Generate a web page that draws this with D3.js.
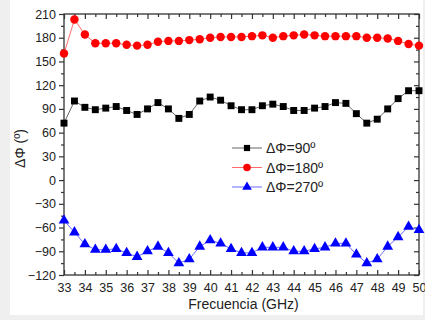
<!DOCTYPE html>
<html><head><meta charset="utf-8">
<script src="https://cdn.jsdelivr.net/npm/d3@7"></script>
<style>body{margin:0;background:#fff}svg{display:block}</style>
</head><body>
<script>
const freqs = [33,33.5,34,34.5,35,35.5,36,36.5,37,37.5,38,38.5,39,39.5,40,40.5,41,41.5,42,42.5,43,43.5,44,44.5,45,45.5,46,46.5,47,47.5,48,48.5,49,49.5,50];
const phase90 = [72,100,92,89,91,93,88,83,90,98,90,78,83,100,105,101,94,89,89,94,96,93,88,88,91,93,98,97,84,72,77,90,103,113,113];
const phase180 = [160,203,184,173,173,173,171,170,171,175,176,176,177,178,180,181,181,181,182,183,180,182,183,184,183,182,182,182,182,180,180,179,176,172,170];
const phase270 = [-51,-66,-81,-88,-88,-87,-92,-97,-90,-84,-92,-105,-100,-84,-76,-80,-87,-92,-92,-85,-85,-85,-90,-90,-87,-85,-80,-80,-94,-105,-100,-84,-72,-59,-63];
const xTicks = [33,34,35,36,37,38,39,40,41,42,43,44,45,46,47,48,49,50];
const yTicks = [-120,-90,-60,-30,0,30,60,90,120,150,180,210];
const seriesNames = ["ΔΦ=90º","ΔΦ=180º","ΔΦ=270º"];

const W=425,H=320;
const svg=d3.select("body").append("svg").attr("width",W).attr("height",H)
  .style("font-family","Liberation Sans, Arial, sans-serif");
svg.append("rect").attr("width",W).attr("height",H).attr("fill","#efefef");
svg.append("rect").attr("x",10).attr("y",0).attr("width",413).attr("height",315).attr("fill","#fff");

const L=64,R=419,T=14,B=275;
const x=d3.scaleLinear().domain([33,50]).range([L,R]);
const y=d3.scaleLinear().domain([-120,210]).range([B,T]);

const axisCol="#333";
// frame
svg.append("rect").attr("x",L).attr("y",T).attr("width",R-L).attr("height",B-T)
  .attr("fill","none").attr("stroke",axisCol).attr("stroke-width",1.3);

const xMinor=d3.range(33.5,50,1);
const yMinor=d3.range(-105,210,30);
// left axis (ticks out)
const gl=svg.append("g").attr("transform",`translate(${L},0)`);
gl.call(d3.axisLeft(y).tickValues(yTicks).tickSize(5).tickPadding(3).tickFormat(d3.format("d")));
gl.append("g").call(d3.axisLeft(y).tickValues(yMinor).tickSize(3).tickFormat(""));
// right axis ticks in
const gr=svg.append("g").attr("transform",`translate(${R},0)`);
gr.call(d3.axisLeft(y).tickValues(yTicks).tickSize(-5).tickSize(5).tickFormat(""));
gr.selectAll(".tick line").attr("x2",-5);
gr.append("g").call(d3.axisLeft(y).tickValues(yMinor).tickSize(3).tickFormat(""));
// bottom ticks in
const gb=svg.append("g").attr("transform",`translate(0,${B})`);
gb.call(d3.axisBottom(x).tickValues(xTicks).tickSize(-5).tickPadding(8).tickFormat(d3.format("d")));
gb.append("g").call(d3.axisBottom(x).tickValues(xMinor).tickSize(-3).tickFormat(""));
// top ticks in
const gt=svg.append("g").attr("transform",`translate(0,${T})`);
gt.call(d3.axisTop(x).tickValues(xTicks).tickSize(-5).tickFormat(""));
gt.append("g").call(d3.axisTop(x).tickValues(xMinor).tickSize(-3).tickFormat(""));

svg.selectAll(".domain").remove();
svg.selectAll(".tick line").attr("stroke",axisCol).attr("stroke-width",1.2);
svg.selectAll(".tick text").attr("fill","#222").style("font-size","12.5px");
// fix bottom label position (ticks inward)
gb.selectAll(".tick text").attr("y",8).attr("dy","0.71em");

svg.append("text").attr("x",(L+R)/2+2).attr("y",309).attr("text-anchor","middle")
  .attr("fill","#222").style("font-size","14px").text("Frecuencia (GHz)");
svg.append("text").attr("transform",`translate(25,${(T+B)/2+4}) rotate(-90)`)
  .attr("text-anchor","middle").attr("fill","#222").style("font-size","14px").text("ΔΦ (º)");

const series=[
  {name:seriesNames[0],vals:phase90,line:"#666",fill:"#000",shape:d3.symbolSquare,size:48},
  {name:seriesNames[1],vals:phase180,line:"#ff6b6b",fill:"#ff0000",shape:d3.symbolCircle,size:56},
  {name:seriesNames[2],vals:phase270,line:"#6b6bff",fill:"#0000ff",shape:d3.symbolTriangle,size:50},
];
const line=d3.line().x(d=>x(d[0])).y(d=>y(d[1]));
series.forEach(s=>{
  const pts=freqs.map((f,i)=>[f,s.vals[i]]);
  svg.append("path").datum(pts).attr("d",line).attr("fill","none").attr("stroke",s.line).attr("stroke-width",1);
  svg.append("g").selectAll("path").data(pts).join("path")
    .attr("transform",d=>`translate(${x(d[0])},${y(d[1])})`)
    .attr("d",d3.symbol().type(s.shape).size(s.size)).attr("fill",s.fill);
});
// legend
const lg=svg.append("g");
series.forEach((s,i)=>{
  const yy=148+i*19.5;
  lg.append("line").attr("x1",232).attr("x2",262).attr("y1",yy).attr("y2",yy).attr("stroke",s.line).attr("stroke-width",1);
  lg.append("path").attr("transform",`translate(247,${yy})`).attr("d",d3.symbol().type(s.shape).size(s.size*0.8)).attr("fill",s.fill);
  lg.append("text").attr("x",266).attr("y",yy+5).attr("fill","#222").style("font-size","14px").text(s.name);
});
</script>
</body></html>
